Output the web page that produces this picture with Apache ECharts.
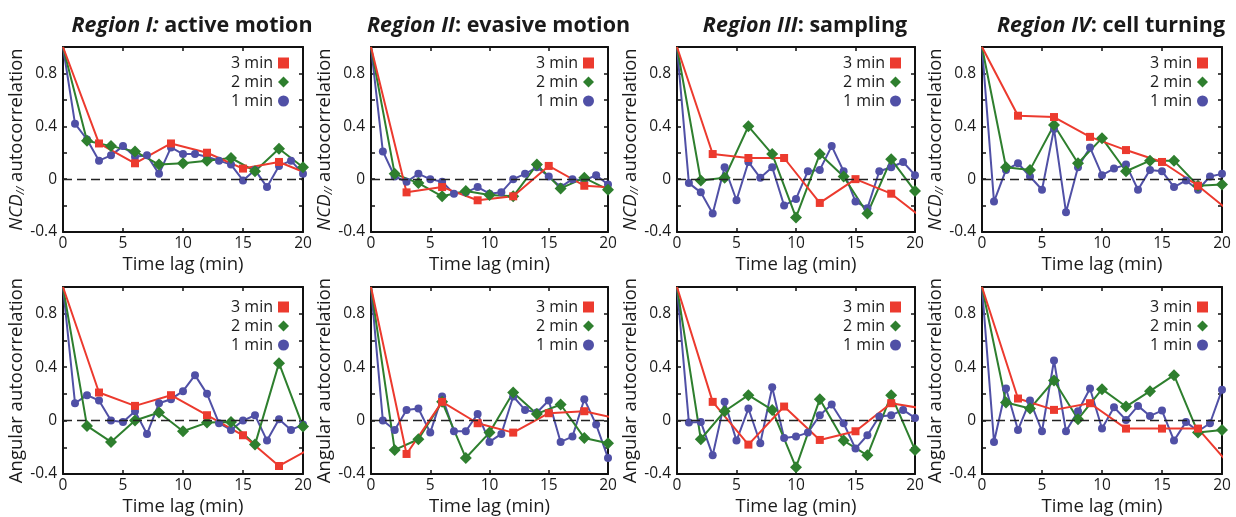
<!DOCTYPE html>
<html><head><meta charset="utf-8">
<script src="https://cdn.jsdelivr.net/npm/echarts@6/dist/echarts.min.js"></script>
<style>html,body{margin:0;padding:0;background:#fff}#c{width:1236px;height:517px}</style>
</head><body><div id="c"></div>
<script>
// time lags (min) for each sampling interval
const lag1 = [0,1,2,3,4,5,6,7,8,9,10,11,12,13,14,15,16,17,18,19,20];
const lag2 = [0,2,4,6,8,10,12,14,16,18,20];
const lag3 = [0,3,6,9,12,15,18,21];

const titles = [
  ['Region I:', ' active motion'],
  ['Region II', ': evasive motion'],
  ['Region III', ': sampling'],
  ['Region IV', ': cell turning']
];
const legendNames = ['3 min', '2 min', '1 min'];
const yTickLabels = ['-0.4', '0', '0.4', '0.8'];
const xTickLabels = ['0', '5', '10', '15', '20'];

// NCD// autocorrelation (top row)
const ncdI_1 = [1.0,0.42,0.30,0.14,0.18,0.25,0.17,0.18,0.04,0.24,0.19,0.19,0.17,0.14,0.11,-0.01,0.07,-0.06,0.10,0.14,0.04];
const ncdI_2 = [1.0,0.29,0.25,0.21,0.11,0.12,0.14,0.16,0.06,0.23,0.09];
const ncdI_3 = [1.0,0.27,0.12,0.27,0.20,0.08,0.13,0.02];

const ncdII_1 = [1.0,0.21,0.02,-0.02,0.04,0.0,-0.02,-0.11,-0.10,-0.06,-0.11,-0.10,0.0,0.04,0.09,0.02,-0.06,0.0,-0.01,0.03,-0.04];
const ncdII_2 = [1.0,0.04,-0.03,-0.13,-0.09,-0.12,-0.13,0.11,-0.07,0.01,-0.08];
const ncdII_3 = [1.0,-0.10,-0.06,-0.16,-0.13,0.10,-0.05,-0.065];

const ncdIII_1 = [1.0,-0.03,-0.10,-0.26,0.09,-0.16,0.13,0.01,0.09,-0.20,-0.15,0.06,0.07,0.25,0.06,-0.17,-0.22,0.06,0.09,0.13,0.03];
const ncdIII_2 = [1.0,-0.01,0.01,0.40,0.19,-0.29,0.19,0.02,-0.26,0.15,-0.09];
const ncdIII_3 = [1.0,0.19,0.16,0.16,-0.18,0.0,-0.11,-0.32];

const ncdIV_1 = [1.0,-0.17,0.07,0.12,0.02,-0.08,0.38,-0.25,0.09,0.24,0.03,0.08,0.11,-0.08,0.07,0.06,-0.06,-0.01,-0.08,0.02,0.04];
const ncdIV_2 = [1.0,0.09,0.07,0.41,0.12,0.31,0.06,0.14,0.14,-0.05,-0.04];
const ncdIV_3 = [1.0,0.48,0.47,0.32,0.22,0.13,-0.05,-0.27];

// Angular autocorrelation (bottom row)
const angI_1 = [1.0,0.13,0.19,0.15,0.0,-0.01,0.07,-0.10,0.13,0.16,0.22,0.34,0.20,-0.02,-0.07,0.0,0.04,-0.15,0.01,-0.07,-0.03];
const angI_2 = [1.0,-0.04,-0.16,0.0,0.06,-0.08,-0.015,-0.01,-0.18,0.43,-0.045];
const angI_3 = [1.0,0.21,0.11,0.19,0.04,-0.11,-0.34,-0.19];

const angII_1 = [1.0,0.0,-0.07,0.08,0.09,-0.09,0.18,-0.08,-0.08,0.05,-0.16,-0.10,0.18,0.08,0.06,0.15,-0.16,-0.12,0.16,-0.03,-0.28];
const angII_2 = [1.0,-0.22,-0.14,0.14,-0.28,-0.09,0.21,0.05,0.12,-0.13,-0.17];
const angII_3 = [1.0,-0.25,0.14,-0.02,-0.09,0.055,0.07,0.01];

const angIII_1 = [1.0,-0.015,-0.01,-0.26,0.14,-0.15,0.09,-0.17,0.25,-0.13,-0.12,-0.09,0.04,0.12,-0.02,-0.21,-0.11,0.03,0.04,0.08,0.02];
const angIII_2 = [1.0,-0.14,0.07,0.19,0.08,-0.35,0.16,-0.15,-0.26,0.19,-0.22];
const angIII_3 = [1.0,0.14,-0.18,0.105,-0.145,-0.08,0.13,0.085];

const angIV_1 = [1.0,-0.16,0.24,-0.07,0.15,-0.08,0.45,-0.08,0.07,0.24,-0.06,0.10,0.005,0.11,0.035,0.075,-0.15,-0.01,-0.08,-0.02,0.23];
const angIV_2 = [1.0,0.135,0.09,0.30,0.01,0.235,0.105,0.22,0.34,-0.09,-0.07];
const angIV_3 = [1.0,0.165,0.08,0.13,-0.06,-0.06,-0.06,-0.37];

const panels = [
  [ncdI_1, ncdI_2, ncdI_3], [ncdII_1, ncdII_2, ncdII_3], [ncdIII_1, ncdIII_2, ncdIII_3], [ncdIV_1, ncdIV_2, ncdIV_3],
  [angI_1, angI_2, angI_3], [angII_1, angII_2, angII_3], [angIII_1, angIII_2, angIII_3], [angIV_1, angIV_2, angIV_3]
];

const FONT = 'Open Sans';
const TXT = '#1a1a1a';
const RED = '#ec3a2e', GREEN = '#2e7f2e', BLUE = '#5050a6';
const colLeft = [63, 371, 677, 982];
const colWidth = [240, 237, 238, 240];
const rowTop = [47, 287];
const rowHeight = [185, 187];
const legendTop = [55, 299];
const W = 1236;

const grid = [], xAxis = [], yAxis = [], series = [], legend = [], title = [];

// first point (lag 0) is drawn as part of the line only, without a marker
function zip(xs, ys) {
  return ys.map((y, i) => i === 0 ? { value: [xs[i], y], symbol: 'none' } : [xs[i], y]);
}

for (let p = 0; p < 8; p++) {
  const r = Math.floor(p / 4), c = p % 4;
  grid.push({ left: colLeft[c], top: rowTop[r], width: colWidth[c], height: rowHeight[r], containLabel: false });
  const axLine = { show: true, onZero: false, lineStyle: { color: '#111', width: 2 } };
  const tick = { show: true, inside: true, length: 4, lineStyle: { color: '#111', width: 1.5 } };
  xAxis.push({
    type: 'value', gridIndex: p, min: 0, max: 20, interval: 5, position: 'bottom',
    axisLine: axLine, axisTick: tick, splitLine: { show: false },
    axisLabel: { color: TXT, fontFamily: FONT, fontSize: 15.5, margin: 4,
      formatter: v => xTickLabels[Math.round(v / 5)] },
    name: 'Time lag (min)', nameLocation: 'middle', nameGap: 23,
    nameTextStyle: { color: TXT, fontFamily: FONT, fontSize: 18.5 }
  });
  xAxis.push({
    type: 'value', gridIndex: p, min: 0, max: 20, interval: 5, position: 'top',
    axisLine: axLine, axisTick: tick, splitLine: { show: false }, axisLabel: { show: false }
  });
  const yName = r === 0 ? '{i|NCD}{s|//}{n| autocorrelation}' : 'Angular autocorrelation';
  yAxis.push({
    type: 'value', gridIndex: p, min: -0.4, max: 1.0, interval: 0.2, position: 'left',
    axisLine: axLine, axisTick: tick, splitLine: { show: false },
    axisLabel: { color: TXT, fontFamily: FONT, fontSize: 15.5, margin: 6,
      formatter: v => { const k = Math.round(v * 10); return (k % 4 === 0 && k < 10) ? yTickLabels[(k + 4) / 4] : ''; } },
    name: yName, nameLocation: 'middle', nameGap: 35, nameRotate: 90,
    nameTextStyle: { color: TXT, fontFamily: FONT, fontSize: 18.5,
      rich: {
        i: { fontFamily: FONT, fontSize: 18.5, fontStyle: 'italic', color: TXT },
        s: { fontFamily: FONT, fontSize: 11, fontStyle: 'italic', color: TXT, verticalAlign: 'bottom', padding: [7, 0, 0, 0] },
        n: { fontFamily: FONT, fontSize: 18.5, color: TXT }
      } }
  });
  yAxis.push({
    type: 'value', gridIndex: p, min: -0.4, max: 1.0, interval: 0.2, position: 'right',
    axisLine: axLine, axisTick: tick, splitLine: { show: false }, axisLabel: { show: false }
  });
  const xi = p * 2, yi = p * 2;
  const [d1, d2, d3] = panels[p];
  series.push({
    name: '1 min', type: 'line', xAxisIndex: xi, yAxisIndex: yi, data: zip(lag1, d1),
    symbol: 'circle', symbolSize: 8, color: BLUE, lineStyle: { width: 2, color: BLUE },
    itemStyle: { color: BLUE }, clip: true, animation: false,
    markLine: { silent: true, symbol: 'none', animation: false, label: { show: false },
      lineStyle: { color: '#222', type: [9, 5], width: 1.3 }, data: [{ yAxis: 0 }] }
  });
  series.push({
    name: '2 min', type: 'line', xAxisIndex: xi, yAxisIndex: yi, data: zip(lag2, d2),
    symbol: 'diamond', symbolSize: 12, color: GREEN, lineStyle: { width: 2, color: GREEN },
    itemStyle: { color: GREEN }, clip: true, animation: false
  });
  series.push({
    name: '3 min', type: 'line', xAxisIndex: xi, yAxisIndex: yi, data: zip(lag3, d3),
    symbol: 'rect', symbolSize: 8, color: RED, lineStyle: { width: 2, color: RED },
    itemStyle: { color: RED }, clip: true, animation: false
  });
  const right = W - (colLeft[c] + colWidth[c] - 14);
  legend.push({
    orient: 'vertical', align: 'right', right: right, top: legendTop[r], padding: 0,
    itemWidth: 11, itemHeight: 11, itemGap: 3, selectedMode: false,
    textStyle: { color: TXT, fontFamily: FONT, fontSize: 16, lineHeight: 15.5 },
    data: [
      { name: legendNames[0], icon: 'rect', itemStyle: { color: RED } },
      { name: legendNames[1], icon: 'diamond', itemStyle: { color: GREEN } },
      { name: legendNames[2], icon: 'circle', itemStyle: { color: BLUE } }
    ]
  });
  if (r === 0) {
    const t = titles[c];
    title.push({
      text: '{bi|' + t[0] + '}{b|' + t[1] + '}',
      left: colLeft[c] + colWidth[c] / 2 + 4, top: 10, textAlign: 'center',
      textStyle: { rich: {
        bi: { fontFamily: FONT, fontSize: 21.5, fontWeight: 'bold', fontStyle: 'italic', color: TXT },
        b: { fontFamily: FONT, fontSize: 21.5, fontWeight: 'bold', color: TXT }
      } }
    });
  }
}

const chart = echarts.init(document.getElementById('c'), null, { renderer: 'canvas' });
chart.setOption({ backgroundColor: '#fff', animation: false, title, grid, xAxis, yAxis, series, legend });
</script></body></html>
